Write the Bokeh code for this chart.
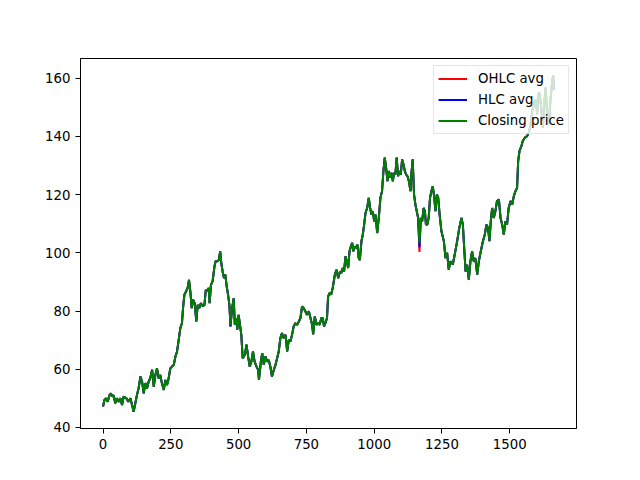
from bokeh.plotting import figure
from bokeh.models import Range1d, FixedTicker, Legend, LegendItem
from bokeh.embed import file_html
from bokeh.resources import INLINE

# Trading-day index and closing price
days = [0, 5, 12, 17, 24, 29, 34, 39, 45, 51, 58, 64, 70, 76, 86, 93, 101, 107, 113, 119,
        125, 131, 138, 144, 150, 156, 162, 168, 174, 181, 187, 193, 199, 205, 211, 217, 224,
        230, 236, 242, 248, 254, 261, 267, 273, 279, 285, 291, 295, 300, 306, 312, 317, 322,
        327, 332, 338, 344, 349, 355, 361, 368, 374, 379, 384, 390, 393, 398, 404, 411, 415,
        423, 427, 432, 436, 441, 446, 451, 456, 461, 466, 470, 476, 482, 486, 491, 495, 500,
        505, 510, 515, 523, 529, 535, 541, 547, 553, 559, 566, 572, 575, 582, 587, 593, 599,
        605, 611, 617, 623, 630, 636, 642, 648, 654, 660, 666, 673, 679, 685, 691, 697, 703,
        709, 716, 722, 728, 734, 740, 746, 752, 759, 765, 771, 775, 781, 787, 793, 799, 805,
        810, 815, 820, 826, 830, 836, 841, 847, 855, 861, 867, 874, 879, 884, 889, 894, 899,
        904, 909, 914, 919, 923, 928, 933, 938, 943, 947, 953, 958, 963, 968, 974, 980, 985,
        990, 995, 1000, 1005, 1011, 1017, 1023, 1029, 1034, 1039, 1044, 1049, 1054, 1059,
        1064, 1069, 1073, 1078, 1083, 1088, 1093, 1098, 1103, 1108, 1113, 1118, 1123, 1128,
        1134, 1137, 1142, 1147, 1152, 1157, 1162, 1167, 1172, 1177, 1182, 1187, 1191, 1196,
        1201, 1206, 1211, 1216, 1221, 1226, 1231, 1236, 1241, 1248, 1257, 1263, 1269, 1275,
        1281, 1290, 1297, 1306, 1314, 1322, 1327, 1332, 1337, 1343, 1349, 1355, 1361, 1367,
        1373, 1380, 1386, 1392, 1401, 1408, 1414, 1420, 1425, 1430, 1435, 1441, 1447, 1453,
        1460, 1466, 1472, 1478, 1484, 1490, 1496, 1503, 1509, 1515, 1521, 1527, 1531, 1536,
        1543, 1548, 1556, 1564, 1570, 1576, 1583, 1589, 1595, 1601, 1605, 1610, 1617, 1622,
        1627, 1632, 1638, 1644, 1650, 1656, 1660, 1663]

close = [47.2, 49.4, 50.0, 48.8, 51.1, 51.7, 50.6, 51.1, 48.3, 50.0, 48.8, 50.0, 47.7, 50.6,
         50.0, 48.8, 50.0, 47.7, 45.4, 48.3, 51.1, 53.4, 57.5, 55.7, 51.7, 55.2, 53.4, 55.7,
         56.9, 59.8, 54.0, 58.0, 60.3, 56.9, 58.0, 55.2, 52.9, 56.3, 54.6, 56.9, 60.3, 60.9,
         61.5, 64.4, 66.1, 70.1, 74.1, 75.8, 81.0, 85.6, 86.7, 87.9, 90.7, 86.7, 81.0, 83.9,
         82.7, 76.4, 82.1, 81.0, 82.7, 81.6, 82.1, 87.3, 86.7, 87.9, 82.7, 89.0, 90.2, 95.3,
         97.1, 97.1, 97.6, 100.5, 96.5, 93.6, 91.3, 92.5, 88.5, 85.6, 82.1, 75.3, 81.0, 84.4,
         75.3, 77.6, 73.6, 78.7, 75.3, 71.8, 63.8, 64.9, 68.4, 64.4, 60.9, 62.6, 66.1, 62.6,
         60.9, 59.8, 56.3, 62.6, 65.5, 61.5, 64.4, 62.6, 63.2, 60.9, 57.5, 59.8, 61.5, 63.8,
         66.1, 70.7, 72.4, 70.7, 71.8, 66.1, 70.1, 69.5, 71.8, 74.7, 75.8, 75.3, 76.4, 77.6,
         81.6, 81.0, 79.9, 78.7, 79.9, 77.6, 75.3, 72.0, 78.1, 75.3, 75.8, 75.3, 77.6, 77.6,
         74.7, 75.8, 77.6, 85.0, 86.2, 85.6, 87.9, 92.5, 94.2, 91.3, 93.6, 93.1, 94.8, 93.6,
         98.8, 97.1, 94.8, 100.5, 102.2, 103.4, 100.5, 102.2, 101.7, 102.8, 98.2, 97.5, 104.0,
         106.3, 109.7, 113.7, 115.4, 118.9, 115.4, 113.1, 114.3, 110.8, 113.1, 106.8, 112.0,
         118.9, 121.2, 128.1, 132.7, 129.2, 124.6, 128.1, 125.8, 127.5, 124.6, 127.5, 126.9,
         132.7, 126.3, 128.1, 126.9, 132.1, 130.4, 128.1, 126.9, 126.3, 124.6, 121.2, 126.9,
         132.1, 120.0, 116.6, 114.3, 112.0, 103.4, 112.0, 110.8, 115.4, 114.3, 109.7, 109.7,
         112.0, 118.9, 121.2, 122.9, 119.5, 114.3, 120.0, 119.0, 113.5, 107.4, 104.0, 98.2,
         100.0, 94.2, 97.1, 96.0, 99.4, 104.0, 108.6, 112.0, 109.7, 101.7, 93.6, 95.9, 90.8,
         97.1, 100.5, 97.1, 98.2, 92.5, 97.1, 100.0, 104.0, 106.3, 109.7, 108.6, 104.0, 110.8,
         115.4, 112.0, 114.3, 117.8, 118.3, 112.0, 109.7, 106.3, 110.8, 109.7, 115.4, 117.8,
         116.6, 119.5, 121.2, 122.3, 131.5, 135.0, 136.7, 138.4, 139.6, 140.1, 141.3, 143.6,
         148.7, 151.0, 152.8, 147.6, 154.5, 155.1, 148.7, 143.0, 151.0, 156.8, 147.6, 144.2,
         152.2, 158.5, 161.0, 156.0]

# Where the averages visibly differ from the closing price (day -> value)
hlc_dev = {470: 74.6, 1167: 101.9}
ohlc_dev = {470: 74.8, 1167: 100.3}

hlc = [hlc_dev.get(d, c) for d, c in zip(days, close)]
ohlc = [ohlc_dev.get(d, c) for d, c in zip(days, close)]

x_ticks = [0, 250, 500, 750, 1000, 1250, 1500]
y_ticks = [40, 60, 80, 100, 120, 140, 160]

FONT = "DejaVu Sans"

xmin, xmax = min(days), max(days)
allv = close + hlc + ohlc
ymin, ymax = min(allv), max(allv)
xpad = 0.05 * (xmax - xmin)
ypad = 0.05 * (ymax - ymin)

p = figure(frame_width=496, frame_height=370, width=632, height=468,
           min_border_left=80, min_border_right=56, min_border_top=58, min_border_bottom=40,
           output_backend="svg", toolbar_location=None,
           x_range=Range1d(xmin - xpad, xmax + xpad),
           y_range=Range1d(ymin - ypad, ymax + ypad))

r1 = p.line(days, ohlc, line_color="red", line_width=2)
r2 = p.line(days, hlc, line_color="blue", line_width=2)
r3 = p.line(days, close, line_color="green", line_width=2)

p.xgrid.visible = False
p.ygrid.visible = False
p.outline_line_color = "black"
p.outline_line_width = 1
p.outline_line_alpha = 1
p.background_fill_color = "white"
p.border_fill_color = "white"

p.xaxis.ticker = FixedTicker(ticks=x_ticks)
p.yaxis.ticker = FixedTicker(ticks=y_ticks)
for ax in (p.xaxis, p.yaxis):
    ax.axis_line_color = "black"
    ax.major_tick_line_color = "black"
    ax.major_tick_out = 5
    ax.major_tick_in = 0
    ax.minor_tick_line_color = None
    ax.major_label_text_font = FONT
    ax.major_label_text_font_size = "13.3px"
    ax.major_label_text_color = "black"
    ax.major_label_standoff = 5

legend = Legend(items=[LegendItem(label="OHLC avg", renderers=[r1]),
                       LegendItem(label="HLC avg", renderers=[r2]),
                       LegendItem(label="Closing price", renderers=[r3])],
                location="top_right", margin=7, padding=4, spacing=4,
                label_height=17, glyph_height=17, glyph_width=29, label_standoff=11,
                label_text_font=FONT, label_text_font_size="13.3px",
                label_text_color="black",
                border_line_color="#cccccc", border_line_width=1,
                background_fill_color="white", background_fill_alpha=0.8)
p.add_layout(legend)

open("out.html", "w").write(file_html(p, INLINE))
